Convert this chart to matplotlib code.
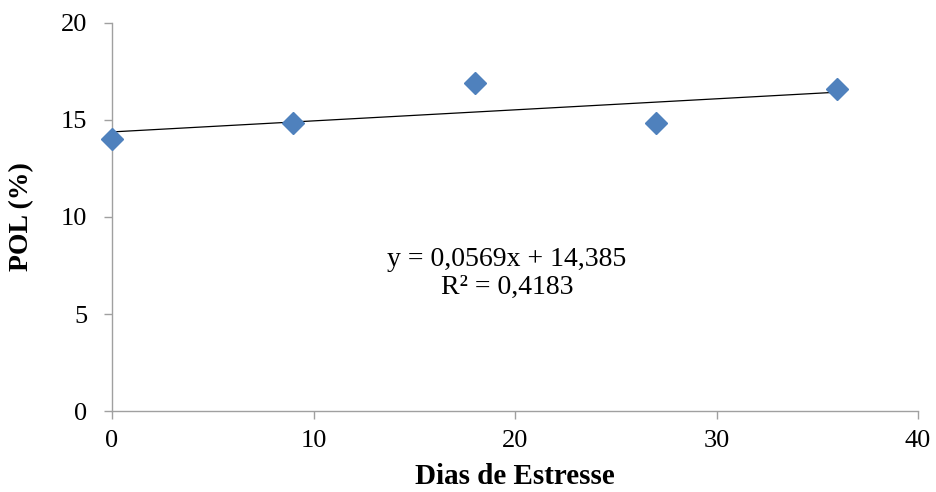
import numpy as np
import matplotlib.pyplot as plt

# data
dias = [0, 9, 18, 27, 36]
pol = [14.0, 14.85, 16.9, 14.85, 16.6]
slope = 0.0569
intercept = 14.385
r2 = 0.4183

plt.rcParams['font.family'] = ['Liberation Serif', 'DejaVu Serif']

fig = plt.figure(figsize=(9.36, 4.92), dpi=100)
ax = fig.add_axes([0.1197, 0.1646, 0.8611, 0.7887])

# trend line
xt = np.array([dias[0], dias[-1]])
ax.plot(xt, slope * xt + intercept, color='black', linewidth=0.9, zorder=2)
ax.plot(dias, pol, linestyle='none', marker='D', markersize=11,
        color='#4F81BD', zorder=3, clip_on=False)

ax.set_xlim(0, 40)
ax.set_ylim(0, 20)
ax.set_xticks([0, 10, 20, 30, 40])
ax.set_yticks([0, 5, 10, 15, 20])

for s in ['top', 'right']:
    ax.spines[s].set_visible(False)
for s in ['left', 'bottom']:
    ax.spines[s].set_color('#A0A0A0')
    ax.spines[s].set_linewidth(1.0)
ax.tick_params(direction='out', length=6, width=1.0, color='#A0A0A0',
               labelsize=19)
ax.tick_params(axis='x', pad=8)
ax.tick_params(axis='y', pad=12)

ax.set_xlabel('Dias de Estresse', fontsize=21, fontweight='bold')
ax.set_ylabel('POL (%)', fontsize=20, fontweight='bold')
ax.xaxis.set_label_coords(0.5, -0.168)
ax.yaxis.set_label_coords(-0.112, 0.5)
ax.xaxis.label.set_va('center')
ax.yaxis.label.set_va('center')

eq = f'y = {slope:.4f}x + {intercept:.3f}'.replace('.', ',') + '\n' + f'R² = {r2:.4f}'.replace('.', ',')
ax.text(19.6, 7.1, eq, ha='center', va='center', fontsize=20, linespacing=1.15)

fig.savefig('out.png', dpi=100)
